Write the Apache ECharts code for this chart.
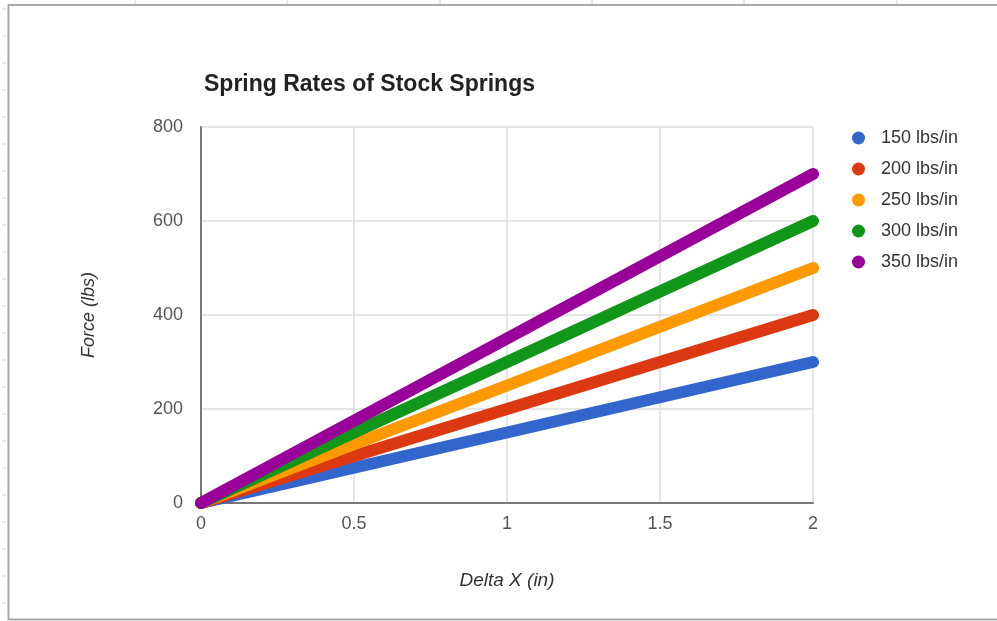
<!DOCTYPE html>
<html>
<head>
<meta charset="utf-8">
<script src="https://cdn.jsdelivr.net/npm/echarts@6/dist/echarts.min.js"></script>
<style>
  html, body { margin: 0; padding: 0; background: #fff; }
  #chart { width: 997px; height: 621px; }
</style>
</head>
<body>
<div id="chart"></div>
<script>
// Displacement of each spring (inches)
const deltaX = [0, 2];

// Force (lbs) at each displacement, one list per spring rate
const force150 = [0, 300];
const force200 = [0, 400];
const force250 = [0, 500];
const force300 = [0, 600];
const force350 = [0, 700];

const seriesNames = ['150 lbs/in', '200 lbs/in', '250 lbs/in', '300 lbs/in', '350 lbs/in'];
const seriesValues = [force150, force200, force250, force300, force350];
const seriesColors = ['#3366cc', '#dc3912', '#ff9900', '#109618', '#990099'];

const chart = echarts.init(document.getElementById('chart'), null, { renderer: 'canvas' });

// Sheet frame around the embedded chart: border plus column/row marks
const frame = [];
const colMarks = [135, 287, 440, 592, 744, 897];
colMarks.forEach(x => frame.push({
  type: 'line', shape: { x1: x, y1: 0, x2: x, y2: 4 },
  style: { stroke: '#d0d0d0', lineWidth: 1 }, silent: true
}));
for (let y = 9; y < 615; y += 27) {
  frame.push({
    type: 'line', shape: { x1: 2, y1: y, x2: 7, y2: y },
    style: { stroke: '#d6d6d6', lineWidth: 1 }, silent: true
  });
}
frame.push({
  type: 'polyline', shape: { points: [[997, 5], [8.5, 5], [8.5, 619.5], [997, 619.5]] },
  style: { stroke: '#a8a8a8', lineWidth: 2, fill: null }, silent: true
});

chart.setOption({
  animation: false,
  backgroundColor: '#ffffff',
  textStyle: { fontFamily: 'Liberation Sans, Arial, sans-serif' },
  graphic: frame,
  title: {
    text: 'Spring Rates of Stock Springs',
    left: 199, top: 68,
    textStyle: { fontSize: 23, fontWeight: 'bold', color: '#222', fontFamily: 'Liberation Sans, Arial, sans-serif' }
  },
  legend: {
    orient: 'vertical',
    left: 847, top: 124,
    icon: 'circle',
    itemWidth: 13, itemHeight: 13,
    itemGap: 13,
    textStyle: { fontSize: 18, color: '#333', padding: [0, 0, 0, 11] },
    data: seriesNames
  },
  grid: { left: 201, right: 184, top: 127, bottom: 118 },
  xAxis: {
    type: 'value',
    min: 0, max: 2, interval: 0.5,
    name: 'Delta X (in)',
    nameLocation: 'middle',
    nameGap: 68,
    nameTextStyle: { fontSize: 19, fontStyle: 'italic', color: '#333' },
    axisLine: { show: true, onZero: false, lineStyle: { color: '#777', width: 2 } },
    axisTick: { show: false },
    axisLabel: { fontSize: 18, color: '#555', margin: 12 },
    splitLine: { show: true, lineStyle: { color: '#dedede', width: 1.5 } }
  },
  yAxis: {
    type: 'value',
    min: 0, max: 800, interval: 200,
    name: 'Force (lbs)',
    nameLocation: 'middle',
    nameGap: 103,
    nameRotate: 90,
    nameTextStyle: { fontSize: 18, fontStyle: 'italic', color: '#333' },
    axisLine: { show: true, lineStyle: { color: '#777', width: 2 } },
    axisTick: { show: false },
    axisLabel: { fontSize: 18, color: '#555', margin: 18 },
    splitLine: { show: true, lineStyle: { color: '#dedede', width: 1.5 } }
  },
  series: seriesNames.map((name, i) => ({
    name: name,
    type: 'line',
    showSymbol: false,
    symbol: 'circle',
    color: seriesColors[i],
    lineStyle: { width: 12, cap: 'round', color: seriesColors[i] },
    data: deltaX.map((x, j) => [x, seriesValues[i][j]])
  }))
});
</script>
</body>
</html>
